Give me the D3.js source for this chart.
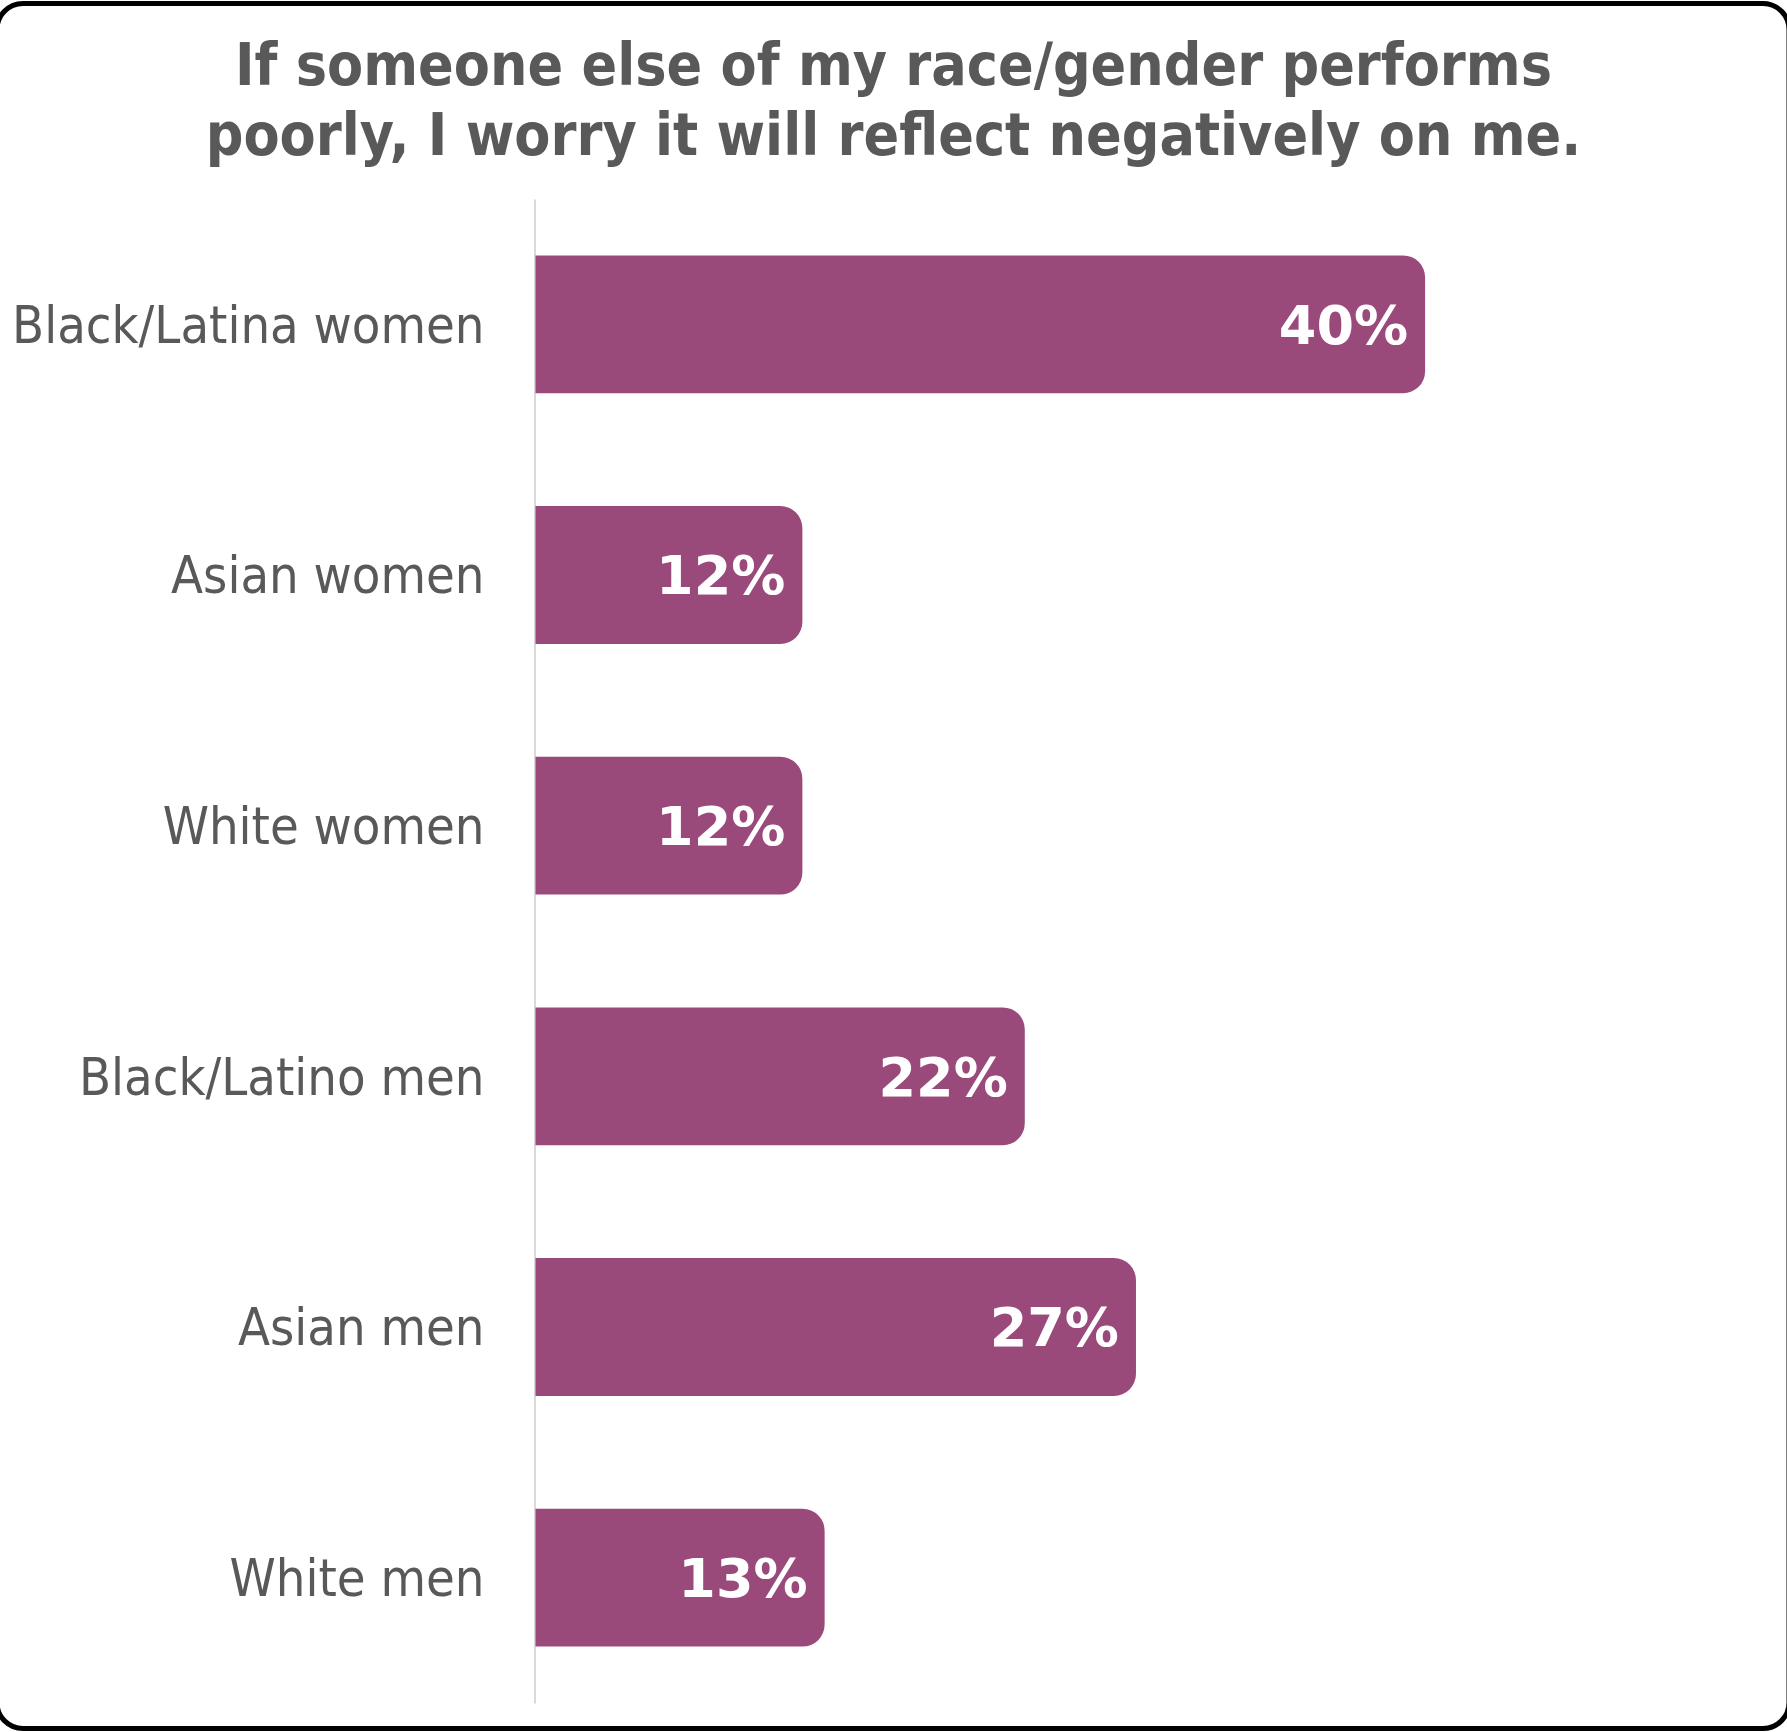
<!DOCTYPE html>
<html>
<head>
<meta charset="utf-8">
<script src="https://cdn.jsdelivr.net/npm/d3@7"></script>
<style>
  html, body { margin: 0; padding: 0; background: #ffffff; }
  svg { display: block; }
</style>
</head>
<body>
<svg id="chart" width="1787" height="1732"></svg>
<script>
// Share of respondents agreeing with the statement, by group
const categories = [
  "Black/Latina women",
  "Asian women",
  "White women",
  "Black/Latino men",
  "Asian men",
  "White men"
];
const values = [40, 12, 12, 22, 27, 13];
const titleLines = [
  "If someone else of my race/gender performs",
  "poorly, I worry it will reflect negatively on me."
];

const W = 1787, H = 1732;
const barColor = "#9A4A7A";
const textColor = "#595959";
const fontFamily = "'DejaVu Sans Condensed', 'DejaVu Sans', sans-serif";
const valueFont = "'DejaVu Sans', sans-serif";

const svg = d3.select("#chart");

// rounded frame around the whole chart
svg.append("rect")
  .attr("x", -3).attr("y", 3.5)
  .attr("width", W + 5).attr("height", H - 7)
  .attr("rx", 26).attr("ry", 26)
  .attr("fill", "#ffffff")
  .attr("stroke", "#000000")
  .attr("stroke-width", 5);

// title
svg.append("g")
  .selectAll("text")
  .data(titleLines)
  .join("text")
  .attr("x", W / 2)
  .attr("y", (d, i) => 85 + i * 70)
  .attr("text-anchor", "middle")
  .attr("font-family", fontFamily)
  .attr("font-weight", "bold")
  .attr("font-size", 58.5)
  .attr("fill", textColor)
  .text(d => d);

const x = d3.scaleLinear().domain([0, 50]).range([535.5, 535.5 + 50 * 22.24]);
const y = d3.scaleBand()
  .domain(categories)
  .range([199, 1703])
  .paddingInner(0.45)
  .paddingOuter(0.225);

// category axis: light vertical line, labels to the left
const yAxis = svg.append("g")
  .attr("transform", `translate(${534.5},0)`)
  .call(d3.axisLeft(y).tickSize(0).tickSizeOuter(0).tickPadding(50));
yAxis.select(".domain")
  .attr("stroke", "#d9d9d9")
  .attr("stroke-width", 2);
yAxis.selectAll(".tick text")
  .attr("font-family", fontFamily)
  .attr("font-size", 52)
  .attr("fill", textColor)
  .attr("dy", "0.35em");

// bar with square left end and rounded right end
function barPath(x0, x1, y0, h, r) {
  r = Math.min(r, (x1 - x0), h / 2);
  return `M${x0},${y0}` +
    `H${x1 - r}` +
    `A${r},${r} 0 0 1 ${x1},${y0 + r}` +
    `V${y0 + h - r}` +
    `A${r},${r} 0 0 1 ${x1 - r},${y0 + h}` +
    `H${x0}Z`;
}

const rows = categories.map((c, i) => ({ category: c, value: values[i] }));

svg.append("g")
  .selectAll("path")
  .data(rows)
  .join("path")
  .attr("d", d => barPath(x(0), x(d.value), y(d.category), y.bandwidth(), 22))
  .attr("fill", barColor);

svg.append("g")
  .selectAll("text")
  .data(rows)
  .join("text")
  .attr("x", d => x(d.value) - 17)
  .attr("y", d => y(d.category) + y.bandwidth() / 2)
  .attr("dy", "0.36em")
  .attr("text-anchor", "end")
  .attr("font-family", valueFont)
  .attr("font-weight", "bold")
  .attr("font-size", 54)
  .attr("fill", "#ffffff")
  .text(d => d.value + "%");
</script>
</body>
</html>
